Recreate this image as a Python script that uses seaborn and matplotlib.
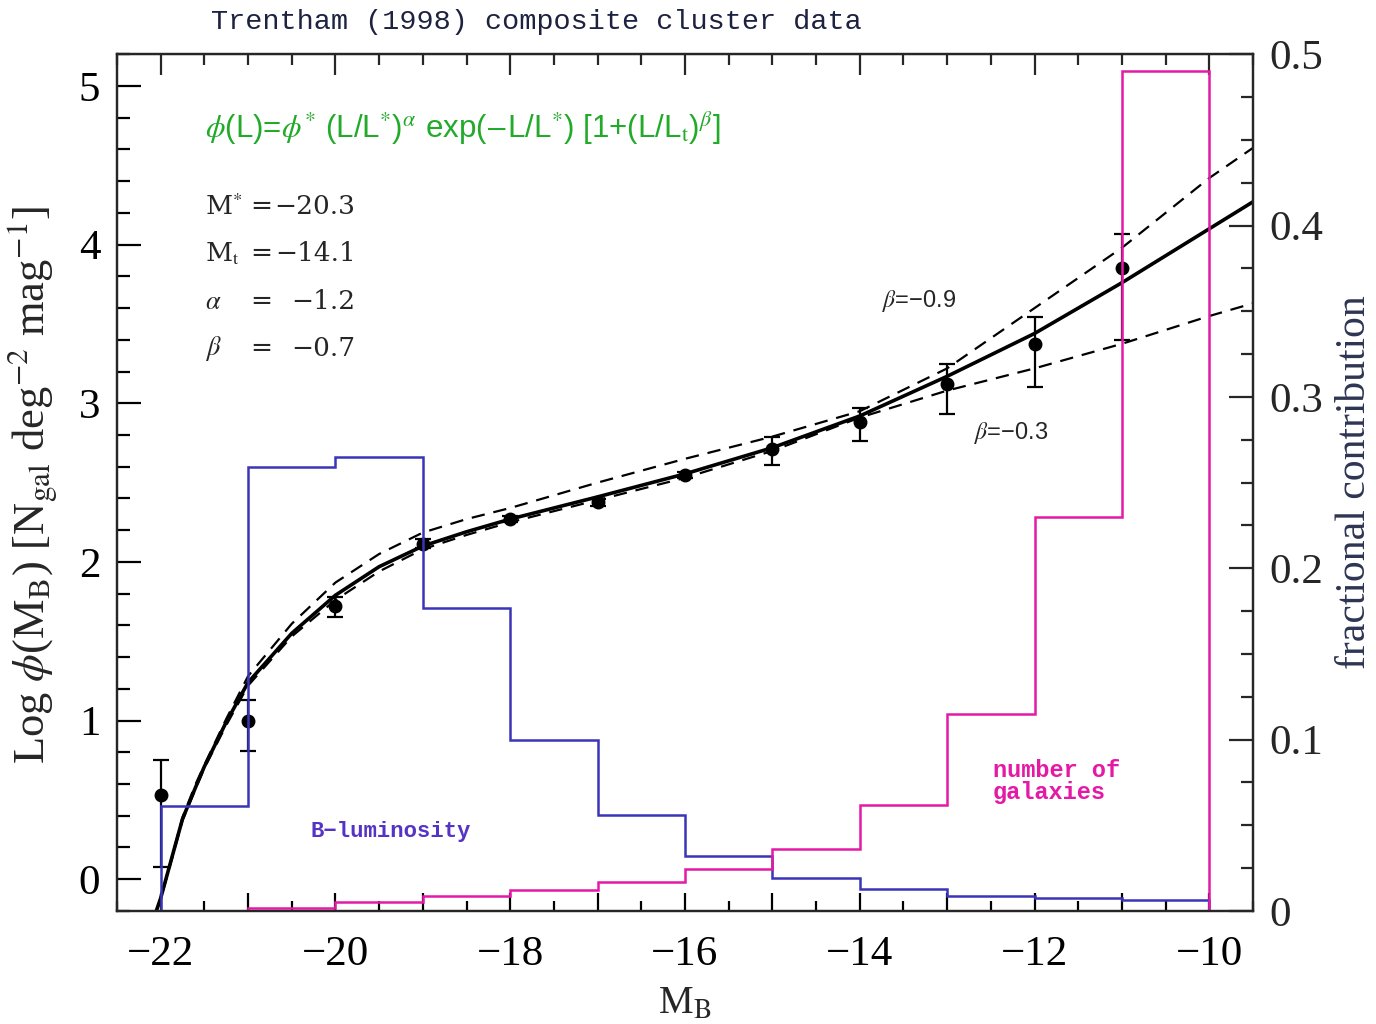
import matplotlib
matplotlib.use("Agg")
import matplotlib.pyplot as plt
import pandas as pd
import seaborn as sns
from matplotlib.ticker import MultipleLocator, FuncFormatter, NullFormatter

# ---- data points (composite cluster LF) ----
mag = [-22, -21, -20, -19, -18, -17, -16, -15, -14, -13, -12, -11]
log_phi = [0.53, 0.995, 1.72, 2.115, 2.27, 2.375, 2.55, 2.715, 2.88, 3.12, 3.375, 3.85]
err_hi = [0.22, 0.135, 0.06, 0.03, 0.02, 0.02, 0.02, 0.075, 0.09, 0.13, 0.17, 0.22]
err_lo = [0.45, 0.185, 0.07, 0.03, 0.02, 0.02, 0.02, 0.105, 0.12, 0.19, 0.275, 0.45]

# ---- model curves ----
curve_mag = [-22.05, -22.0, -21.9, -21.75, -21.6, -21.5, -21.25, -21.0, -20.5, -20.0,
             -19.5, -19.0, -18.5, -18.0, -17.0, -16.0, -15.0, -14.0, -13.0, -12.0,
             -11.0, -10.0, -9.5]
fit_beta07 = [-0.2, -0.12, 0.08, 0.38, 0.58, 0.71, 0.99, 1.24, 1.55, 1.79,
              1.97, 2.10, 2.19, 2.27, 2.41, 2.555, 2.72, 2.92, 3.17, 3.44,
              3.76, 4.10, 4.27]
fit_beta09 = [-0.2, -0.13, 0.08, 0.39, 0.60, 0.72, 1.01, 1.28, 1.61, 1.87,
              2.05, 2.185, 2.27, 2.34, 2.50, 2.65, 2.79, 2.95, 3.22, 3.60,
              3.98, 4.42, 4.61]
fit_beta03 = [-0.2, -0.12, 0.07, 0.37, 0.57, 0.70, 0.97, 1.22, 1.53, 1.76,
              1.94, 2.08, 2.17, 2.25, 2.39, 2.53, 2.70, 2.91, 3.08, 3.22,
              3.375, 3.55, 3.63]

# ---- fractional contributions (right axis) ----
blue_edges = [-22, -21, -20, -19, -18, -17, -16, -15, -14, -13, -12, -11, -10]
blue_frac = [0.061, 0.259, 0.265, 0.177, 0.100, 0.056, 0.032, 0.019, 0.013, 0.009, 0.0075, 0.0065]
pink_edges = [-21, -20, -19, -18, -17, -16, -15, -14, -13, -12, -11, -10]
pink_frac = [0.002, 0.005, 0.0088, 0.0123, 0.017, 0.0245, 0.036, 0.062, 0.115, 0.23, 0.49]

sns.set_style("ticks")
plt.rcParams["font.family"] = ["Liberation Serif", "DejaVu Serif"]
plt.rcParams["mathtext.fontset"] = "stix"

BLUE = "#3b34b8"
PINK = "#e41aa6"
GREEN = "#22aa2a"
MONO = ["Liberation Mono", "DejaVu Sans Mono"]
SANS = ["Liberation Sans", "DejaVu Sans"]

fig = plt.figure(figsize=(13.76, 10.24), dpi=100)
ax = fig.add_axes([0.085, 0.1104, 0.8256, 0.8366])

curves = pd.DataFrame({"M": curve_mag, "b07": fit_beta07, "b09": fit_beta09, "b03": fit_beta03})
sns.lineplot(data=curves, x="M", y="b07", ax=ax, color="black", lw=2.6, sort=False, estimator=None)
sns.lineplot(data=curves, x="M", y="b09", ax=ax, color="black", lw=1.6, sort=False, estimator=None)
sns.lineplot(data=curves, x="M", y="b03", ax=ax, color="black", lw=1.6, sort=False, estimator=None)
for ln in ax.lines[1:]:
    ln.set_dashes((6, 4))

ax.errorbar(mag, log_phi, yerr=[err_lo, err_hi], fmt="o", color="black", ms=9,
            elinewidth=1.6, capsize=6, capthick=1.6, zorder=5)

ax.set_xlim(-22.5, -9.5)
ax.set_ylim(-0.2, 5.2)

ax2 = ax.twinx()
ax2.stairs(blue_frac, blue_edges, color=BLUE, lw=1.8, baseline=0)
ax2.stairs(pink_frac, pink_edges, color=PINK, lw=1.8, baseline=0)
ax2.set_ylim(0, 0.5)

# ticks
ax.xaxis.set_major_locator(MultipleLocator(1))
ax.xaxis.set_minor_locator(MultipleLocator(0.5))
ax.xaxis.set_major_formatter(FuncFormatter(
    lambda v, p: ("\u2212%d" % abs(round(v))) if round(v) % 2 == 0 else ""))
ax.yaxis.set_major_locator(MultipleLocator(1))
ax.yaxis.set_minor_locator(MultipleLocator(0.2))
ax.yaxis.set_major_formatter(FuncFormatter(lambda v, p: "%d" % round(v)))
ax.tick_params(which="both", direction="in", right=False, top=False, width=1.6,
               labelsize=31, colors="black")
ax.tick_params(which="major", length=17, pad=12)
ax.tick_params(which="minor", length=9)
ax.tick_params(axis="x", which="major", length=13, pad=18)
ax.tick_params(axis="x", which="minor", length=7)

top = ax.secondary_xaxis("top")
top.xaxis.set_major_locator(MultipleLocator(2))
top.xaxis.set_minor_locator(MultipleLocator(0.5))
top.xaxis.set_major_formatter(NullFormatter())
top.tick_params(which="both", direction="in", width=1.6)
top.tick_params(which="major", length=15)
top.tick_params(which="minor", length=8)

ax2.yaxis.set_major_locator(MultipleLocator(0.1))
ax2.yaxis.set_minor_locator(MultipleLocator(0.025))
ax2.yaxis.set_major_formatter(FuncFormatter(lambda v, p: "0" if abs(v) < 1e-9 else "%.1f" % v))
ax2.tick_params(which="both", direction="in", width=1.6, labelsize=31, pad=12)
ax2.tick_params(which="major", length=17)
ax2.tick_params(which="minor", length=9)

for a in (ax, ax2):
    for s in a.spines.values():
        s.set_linewidth(1.6)

ax.set_xlabel("M$_{\\rm B}$", fontsize=28, labelpad=8)
ax.set_ylabel("Log $\\phi$(M$_{\\rm B}$) [N$_{\\rm gal}$ deg$^{-2}$ mag$^{-1}$]", fontsize=32)
ax.yaxis.set_label_coords(-0.05, 0.497)
ax2.set_ylabel("fractional contribution", fontsize=30, color="#2e3553")
ax2.yaxis.set_label_coords(1.073, 0.5)

fig.text(0.153, 0.979, "Trentham (1998) composite cluster data", fontsize=20.5,
         color="#1c2240", va="center", ha="left", family=MONO)

ax.text(-21.49, 4.735, "$\\phi$(L)=$\\phi^{*}$ (L/L$^{*}$)$^{\\alpha}$ exp($-$L/L$^{*}$) [1+(L/L$_{\\rm t}$)$^{\\beta}$]",
        fontsize=22.5, color=GREEN, va="center", ha="left", family=SANS)
params = [("M$^{*}$", "\u221220.3"), ("M$_{\\rm t}$", "\u221214.1"),
          ("$\\alpha$", "\u22121.2"), ("$\\beta$", "\u22120.7")]
PFONT = ["DejaVu Serif"]
for i, (name, val) in enumerate(params):
    yy = 4.24 - i * 0.298
    ax.text(-21.49, yy, name, fontsize=19, va="center", ha="left", family=PFONT)
    ax.text(-20.85, yy, "=", fontsize=19, va="center", ha="center", family=PFONT)
    ax.text(-19.77, yy, val, fontsize=19, va="center", ha="right", family=PFONT)

ax.text(-13.75, 3.645, "$\\beta$=\u22120.9", fontsize=17, va="center", ha="left", family=SANS)
ax.text(-12.69, 2.81, "$\\beta$=\u22120.3", fontsize=17, va="center", ha="left", family=SANS)
ax.text(-20.29, 0.30, "B\u2212luminosity", fontsize=16, color="#5533c4", va="center",
        ha="left", family=MONO, weight="bold")
ax.text(-12.48, 0.617, "number of\ngalaxies", fontsize=17, color=PINK, va="center",
        ha="left", family=MONO, weight="bold", linespacing=0.95)

fig.savefig("out.png", dpi=100, facecolor="white")
